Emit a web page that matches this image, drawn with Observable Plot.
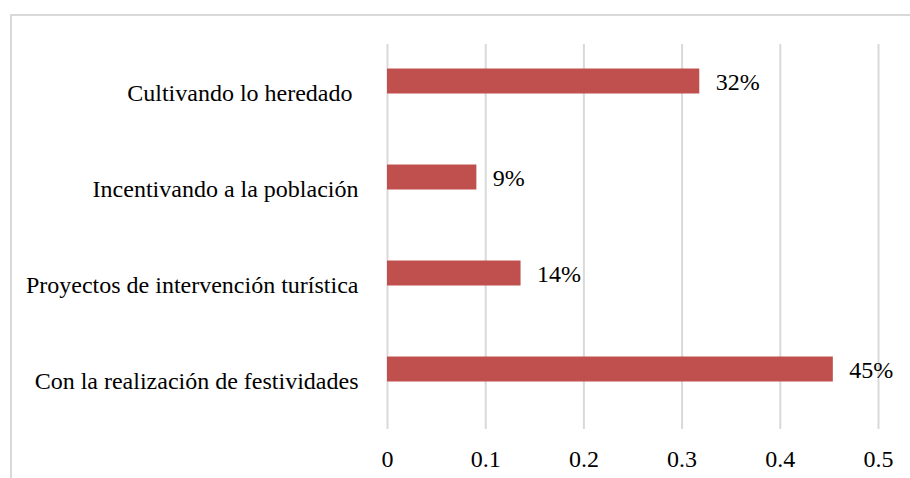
<!DOCTYPE html>
<html><head><meta charset="utf-8">
<script src="https://cdn.jsdelivr.net/npm/d3@7"></script>
<script src="https://cdn.jsdelivr.net/npm/@observablehq/plot@0.6"></script>
<style>
html,body{margin:0;padding:0;background:#fff;}
#wrap{position:relative;width:910px;height:478px;overflow:hidden;}
#frame{position:absolute;left:10px;top:14px;width:930px;height:490px;border:2px solid #d9d9d9;box-sizing:border-box;}
#chart{position:absolute;left:0;top:0;}
#chart svg text, #chart svg tspan{font-family:"Liberation Serif", Tinos, "Times New Roman", Times, serif !important;}
</style></head><body>
<div id="wrap"><div id="frame"></div><div id="chart"></div></div>
<script>
const categories = [
  "Cultivando lo heredado ",
  "Incentivando a la población",
  "Proyectos de intervención turística",
  "Con la realización de festividades"
];
const values = [0.318, 0.091, 0.136, 0.454];
const valueLabels = ["32%", "9%", "14%", "45%"];
const xTicks = [0, 0.1, 0.2, 0.3, 0.4, 0.5];
const xTickLabels = ["0", "0.1", "0.2", "0.3", "0.4", "0.5"];

const data = categories.map((c, i) => ({category: c, value: values[i], label: valueLabels[i]}));
const fs = 24;
const ff = "Liberation Serif, Tinos, Times New Roman, Times, serif";

const chart = Plot.plot({
  width: 910, height: 478,
  marginLeft: 387, marginRight: 32, marginTop: 44, marginBottom: 49,
  style: `font-size: ${fs}px; color: #000; background: transparent; overflow: visible;`,
  x: {domain: [0, 0.5]},
  y: {domain: categories, padding: 0},
  marks: [
    Plot.gridX(xTicks, {stroke: "#d9d9d9", strokeOpacity: 1, strokeWidth: 2}),
    Plot.barX(data, {x: "value", y: "category", fill: "#c0504d", insetTop: 23.5, insetBottom: 47.5}),
    Plot.text(data, {x: "value", y: "category", text: "label", textAnchor: "start", dx: 16, dy: -11.5, fontSize: fs, fontFamily: ff, fill: "#000"}),
    Plot.axisX({ticks: xTicks, tickFormat: d => xTickLabels[xTicks.indexOf(d)], tickSize: 0, tickPadding: 20, label: null, fontSize: fs, fontFamily: ff}),
    Plot.axisY({tickSize: 0, tickPadding: 29, label: null, fontSize: fs, fontFamily: ff})
  ]
});
chart.setAttribute("font-family", ff);
document.getElementById("chart").appendChild(chart);
</script>
</body></html>
